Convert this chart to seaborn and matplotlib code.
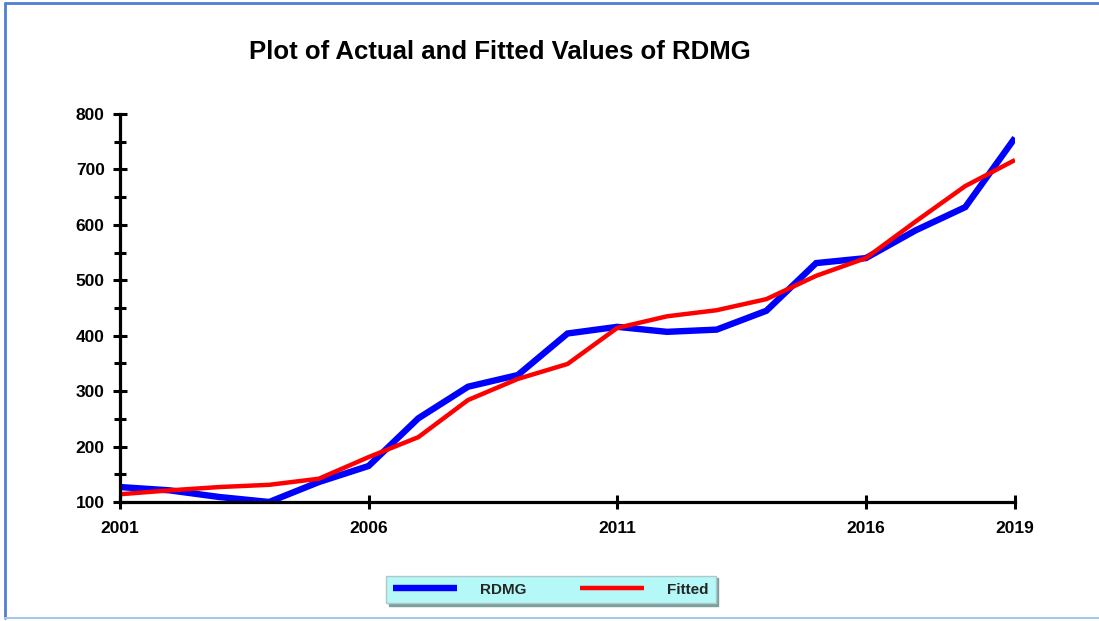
import numpy as np
import pandas as pd
import matplotlib
matplotlib.use("Agg")
import matplotlib.pyplot as plt
from matplotlib.lines import Line2D
from matplotlib.ticker import MultipleLocator
import seaborn as sns

years = list(range(2001, 2020))
rdmg = [127, 121, 109, 100, 136, 165, 251, 308, 329, 404, 416, 407, 411, 445, 531, 540, 590, 632, 757]
fitted = [114, 121, 127, 131, 142, 181, 217, 284, 322, 349, 414, 435, 446, 466, 508, 540, 606, 670, 717]
series_names = ["RDMG", "Fitted"]
x_ticks = [2001, 2006, 2011, 2016, 2019]
y_ticks = [100, 200, 300, 400, 500, 600, 700, 800]
title = "Plot of Actual and Fitted Values of RDMG"

sns.set_theme(style="white")
plt.rcParams['font.family'] = ['Liberation Sans', 'DejaVu Sans']
plt.rcParams['font.weight'] = 'bold'

df = pd.DataFrame({
    "year": years * 2,
    "value": rdmg + fitted,
    "series": [series_names[0]] * len(years) + [series_names[1]] * len(years),
})

fig = plt.figure(figsize=(10.99, 6.21), dpi=100)
ax = fig.add_axes([120 / 1099, 1 - 502 / 621, (1015 - 120) / 1099, (502 - 114) / 621])

sns.lineplot(data=df, x="year", y="value", hue="series",
             palette={"RDMG": "#0000FF", "Fitted": "#FF0000"},
             size="series", sizes={"RDMG": 4.6, "Fitted": 3.2},
             ax=ax, legend=False)
for ln in ax.get_lines():
    ln.set_solid_capstyle("butt")
    ln.set_solid_joinstyle("miter")

ax.set_xlim(2001, 2019)
ax.set_ylim(100, 800)
ax.set_xticks(x_ticks)
ax.set_yticks(y_ticks)
ax.yaxis.set_minor_locator(MultipleLocator(50))
ax.set_xlabel("")
ax.set_ylabel("")
for s in ["top", "right"]:
    ax.spines[s].set_visible(False)
for s in ["left", "bottom"]:
    ax.spines[s].set_linewidth(2.3)
    ax.spines[s].set_color("black")
ax.tick_params(axis="both", which="both", bottom=True, left=True, top=False, right=False)
ax.tick_params(axis="both", which="major", direction="inout", length=10, width=2.2,
               color="black", labelsize=12.5, labelcolor="black")
ax.tick_params(axis="y", which="minor", direction="inout", length=8, width=2.2, color="black")
ax.tick_params(axis="x", which="major", pad=9)
ax.tick_params(axis="y", which="major", pad=6)
for lbl in ax.get_xticklabels() + ax.get_yticklabels():
    lbl.set_fontweight("bold")

fig.text(500 / 1099, 1 - 52 / 621, title, ha="center", va="center",
         fontsize=18.5, fontweight="bold", color="black")

handles = [Line2D([0], [0], color="#0000FF", lw=4.6, solid_capstyle="butt"),
           Line2D([0], [0], color="#FF0000", lw=3.2, solid_capstyle="butt")]
leg = fig.legend(handles, series_names, loc="center",
                 bbox_to_anchor=(551 / 1099, 1 - 589.5 / 621), ncol=2,
                 frameon=True, fancybox=False, shadow={"color": "#7F9F9F", "alpha": 1},
                 facecolor="#B4F8F8", edgecolor="#B0C8C8", framealpha=1,
                 handlelength=4.2, handletextpad=1.5, columnspacing=3.5,
                 prop={"size": 11, "weight": "bold"}, borderpad=0.45)

# figure border lines
fig.add_artist(Line2D([5 / 1099, 5 / 1099], [1 - 3 / 621, 1 - 618 / 621],
                      transform=fig.transFigure, color="#4F7FD0", lw=2))
fig.add_artist(Line2D([5 / 1099, 1.0], [1 - 3 / 621, 1 - 3 / 621],
                      transform=fig.transFigure, color="#4F7FD0", lw=2))
fig.add_artist(Line2D([5 / 1099, 1.0], [1 - 618 / 621, 1 - 618 / 621],
                      transform=fig.transFigure, color="#A9C4EE", lw=1.5))

fig.savefig("out.png", dpi=100, facecolor="white")
